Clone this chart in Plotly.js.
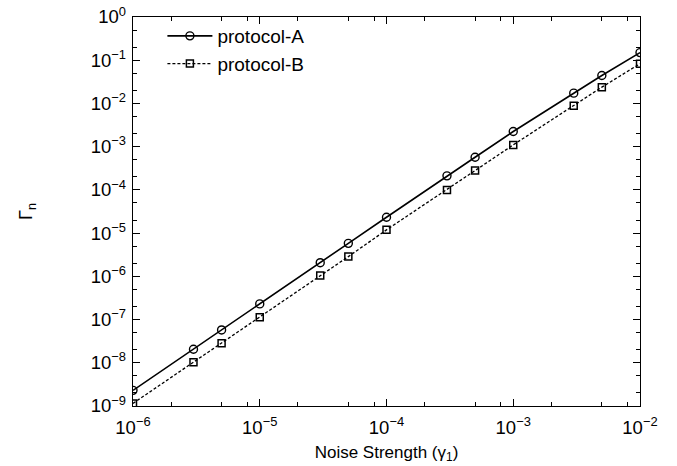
<!DOCTYPE html>
<html>
<head>
<meta charset="utf-8">
<script src="https://cdn.plot.ly/plotly-3.0.1.min.js"></script>
<style>html,body{margin:0;padding:0;background:#fff;}#chart{width:677px;height:466px;}</style>
</head>
<body>
<div id="chart"></div>
<script>
var gamma = [1e-6, 3e-6, 5e-6, 1e-5, 3e-5, 5e-5, 1e-4, 3e-4, 5e-4, 1e-3, 3e-3, 5e-3, 1e-2];
var protocolA = [2.3e-9, 2.05e-8, 5.75e-8, 2.3e-7, 2.07e-6, 5.8e-6, 2.33e-5, 2.11e-4, 5.7e-4, 2.24e-3, 1.73e-2, 4.43e-2, 0.15];
var protocolB = [1.15e-9, 1.03e-8, 2.83e-8, 1.13e-7, 1.04e-6, 2.86e-6, 1.19e-5, 1.0e-4, 2.8e-4, 1.1e-3, 8.9e-3, 2.38e-2, 8.3e-2];
var seriesNames = ['protocol-A', 'protocol-B'];
var xTickExp = [-6, -5, -4, -3, -2];
var yTickExp = [-9, -8, -7, -6, -5, -4, -3, -2, -1, 0];

function pow10Text(e){ return '10<sup>' + (e < 0 ? '\u2212' + (-e) : e) + '</sup>'; }
function minorVals(exps, mults){
  var out = [];
  for (var i = 0; i < exps.length - 1; i++) mults.forEach(function(m){ out.push(m * Math.pow(10, exps[i])); });
  return out;
}

var font = {family: 'Liberation Sans, Arial, sans-serif', color: '#000'};
var traces = [
  {x: gamma, y: protocolA, name: seriesNames[0], type: 'scatter', mode: 'lines+markers',
   line: {color: '#000', width: 1.6},
   marker: {symbol: 'circle-open', size: 8, color: '#000', line: {width: 1.4}}},
  {x: gamma, y: protocolB, name: seriesNames[1], type: 'scatter', mode: 'lines+markers',
   line: {color: '#000', width: 1.3, dash: '3px,2px'},
   marker: {symbol: 'square-open', size: 7, color: '#000', line: {width: 1.5}}}
];

var axisCommon = {type: 'log', showgrid: false, zeroline: false, showline: true, linecolor: '#000', linewidth: 1.3,
  mirror: 'allticks', ticks: 'inside', ticklen: 7, tickwidth: 1, tickcolor: '#000', tickmode: 'array'};

var layout = {
  width: 677, height: 466,
  margin: {l: 133, r: 37, t: 17, b: 60},
  paper_bgcolor: '#fff', plot_bgcolor: '#fff',
  font: Object.assign({size: 16}, font),
  showlegend: true,
  legend: {x: 0.058, y: 1.0, xanchor: 'left', yanchor: 'top', bgcolor: 'rgba(0,0,0,0)',
    itemwidth: 45, font: Object.assign({size: 19}, font)},
  xaxis: Object.assign({}, axisCommon, {
    range: [-6, -2],
    tickvals: xTickExp.map(function(e){ return Math.pow(10, e); }),
    ticktext: xTickExp.map(pow10Text),
    tickfont: Object.assign({size: 18.5}, font),
    ticklabelstandoff: 4,
    minor: {tickmode: 'array', tickvals: minorVals(xTickExp, [2, 5, 8]), ticks: 'inside', ticklen: 4, tickcolor: '#000'},
    title: {text: 'Noise Strength (\u03b3<sub>1</sub>)', font: Object.assign({size: 17}, font), standoff: 9}
  }),
  yaxis: Object.assign({}, axisCommon, {
    range: [-9, 0],
    tickvals: yTickExp.map(function(e){ return Math.pow(10, e); }),
    ticktext: yTickExp.map(pow10Text),
    tickfont: Object.assign({size: 18.5}, font),
    ticklabelstandoff: 2,
    minor: {tickmode: 'array', tickvals: minorVals(yTickExp, [2, 5]), ticks: 'inside', ticklen: 4, tickcolor: '#000'},
    title: {text: '\u0393<sub>n</sub>', font: Object.assign({size: 18}, font), standoff: 53}
  })
};

Plotly.newPlot('chart', traces, layout, {displayModeBar: false, staticPlot: true});
</script>
</body>
</html>
